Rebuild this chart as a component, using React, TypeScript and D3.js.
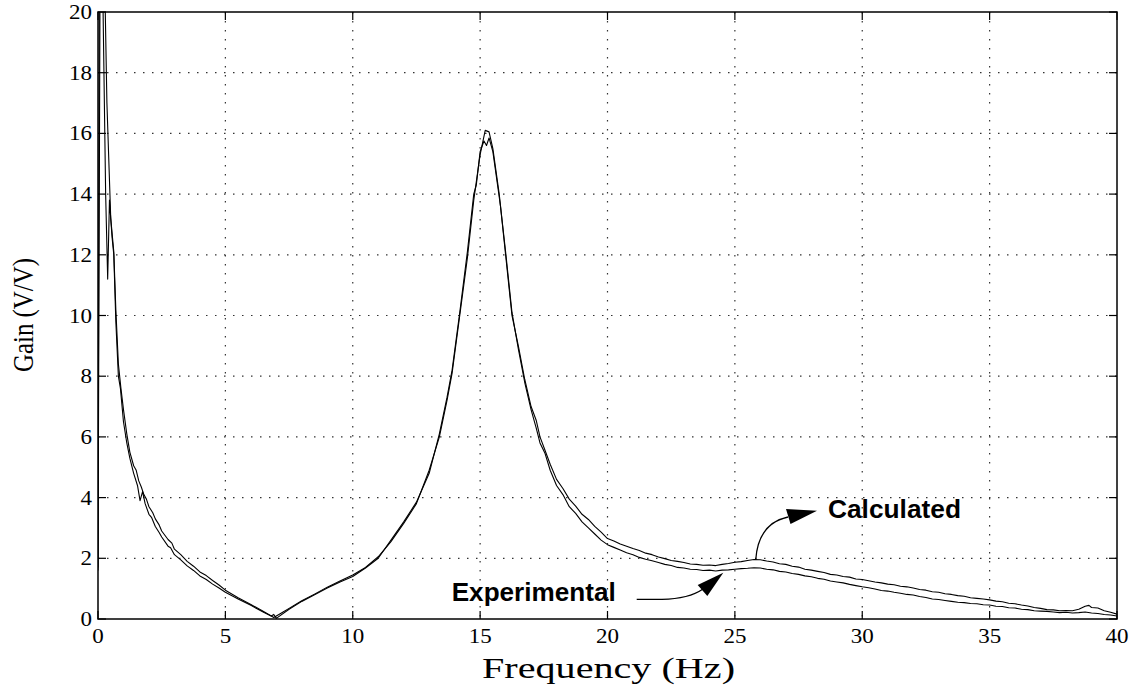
import * as d3 from 'd3'
import { useEffect, useRef } from 'react'

// Frequency (Hz) / gain (V/V) pairs
const calcFreq = [0, 0.08, 0.2, 0.35, 0.5, 0.62, 0.7, 0.8, 0.9, 1.0, 1.13, 1.25, 1.4, 1.5, 1.6, 1.7, 1.8, 1.9, 2.0, 2.15, 2.25, 2.4, 2.5, 2.75, 2.9, 3.0, 3.25, 3.5, 3.75, 4.0, 4.25, 4.5, 4.75, 5.0, 5.5, 6.0, 6.5, 6.9, 7.2, 7.5, 8.0, 8.5, 9.0, 9.5, 10.0, 10.5, 11.0, 11.5, 12.0, 12.5, 13.0, 13.4, 13.7, 13.9, 14.2, 14.5, 14.75, 15.0, 15.2, 15.35, 15.5, 15.75, 16.0, 16.25, 16.5, 16.75, 17.0, 17.2, 17.35, 17.55, 17.75, 18.0, 18.25, 18.5, 18.75, 19.0, 19.25, 19.5, 19.75,
  20.0, 20.25, 20.5, 20.75, 21.0, 21.25, 21.5, 21.75, 22.0, 22.25, 22.5, 22.75, 23.0, 23.25, 23.5, 23.75, 24.0, 24.25, 24.5, 24.75, 25.0, 25.25, 25.5, 25.75, 26.0, 26.25, 26.5, 26.75, 27.0, 27.25, 27.5, 27.75, 28.0, 28.25, 28.5, 28.75, 29.0, 29.25, 29.5, 29.75, 30.0, 30.25, 30.5, 30.75, 31.0, 31.25, 31.5, 31.75, 32.0, 32.25, 32.5, 32.75, 33.0, 33.25, 33.5, 33.75, 34.0, 34.25, 34.5, 34.75, 35.0, 35.25, 35.5, 35.75, 36.0, 36.25, 36.5, 36.75, 37.0, 37.25, 37.5, 37.75, 38.0, 38.25, 38.5, 38.75, 38.9, 39.0, 39.25, 39.5, 39.75, 40.0]
const calcGain = [1.7, 21, 24, 17, 13.2, 12.1, 10.2, 8.4, 7.6, 6.9, 6.1, 5.5, 5.05, 4.9, 4.55, 4.35, 4.1, 3.95, 3.7, 3.5, 3.3, 3.1, 2.9, 2.62, 2.5, 2.3, 2.12, 1.9, 1.74, 1.55, 1.43, 1.27, 1.12, 0.95, 0.7, 0.48, 0.25, 0.05, 0.2, 0.35, 0.6, 0.82, 1.05, 1.25, 1.45, 1.7, 2.05, 2.55, 3.15, 3.8, 4.9, 6.0, 7.2, 8.1, 10.0, 11.9, 13.8, 15.3, 16.1, 16.05, 15.5, 14.0, 12.0, 10.0, 9.0, 7.9, 7.0, 6.55, 6.0, 5.55, 5.1, 4.6, 4.3, 3.95, 3.72, 3.45, 3.28, 3.05, 2.86,
  2.65, 2.57, 2.47, 2.40, 2.32, 2.26, 2.17, 2.12, 2.04, 1.99, 1.93, 1.90, 1.86, 1.81, 1.80, 1.77, 1.78, 1.76, 1.80, 1.83, 1.87, 1.89, 1.93, 1.96, 1.95, 1.91, 1.88, 1.82, 1.80, 1.74, 1.71, 1.64, 1.61, 1.57, 1.53, 1.47, 1.45, 1.40, 1.38, 1.32, 1.30, 1.26, 1.22, 1.19, 1.15, 1.13, 1.08, 1.06, 1.02, 0.97, 0.95, 0.90, 0.88, 0.83, 0.81, 0.77, 0.75, 0.70, 0.68, 0.66, 0.63, 0.59, 0.57, 0.52, 0.50, 0.46, 0.43, 0.38, 0.35, 0.31, 0.30, 0.27, 0.28, 0.27, 0.32, 0.42, 0.45, 0.38, 0.36, 0.27, 0.22, 0.16]

const expFreq = [0, 0.05, 0.15, 0.3, 0.38, 0.45, 0.55, 0.62, 0.7, 0.8, 0.88, 1.0, 1.13, 1.25, 1.4, 1.55, 1.65, 1.75, 1.85, 2.0, 2.1, 2.25, 2.4, 2.5, 2.75, 2.85, 3.0, 3.25, 3.5, 3.75, 4.0, 4.25, 4.5, 4.75, 5.0, 5.5, 6.0, 6.5, 6.8, 6.9, 7.0, 7.5, 8.0, 8.5, 9.0, 9.5, 10.0, 10.5, 11.0, 11.5, 12.0, 12.5, 13.0, 13.4, 13.7, 13.9, 14.2, 14.5, 14.75, 14.85, 15.0, 15.15, 15.25, 15.35, 15.5, 15.7, 15.8, 16.0, 16.25, 16.5, 16.75, 17.0, 17.2, 17.35, 17.55, 17.75, 18.0, 18.25, 18.5, 18.75, 19.0, 19.25, 19.5, 19.75,
  20.0, 20.25, 20.5, 20.75, 21.0, 21.25, 21.5, 21.75, 22.0, 22.25, 22.5, 22.75, 23.0, 23.25, 23.5, 23.75, 24.0, 24.25, 24.5, 24.75, 25.0, 25.25, 25.5, 25.75, 26.0, 26.25, 26.5, 26.75, 27.0, 27.25, 27.5, 27.75, 28.0, 28.25, 28.5, 28.75, 29.0, 29.25, 29.5, 29.75, 30.0, 30.25, 30.5, 30.75, 31.0, 31.25, 31.5, 31.75, 32.0, 32.25, 32.5, 32.75, 33.0, 33.25, 33.5, 33.75, 34.0, 34.25, 34.5, 34.75, 35.0, 35.25, 35.5, 35.75, 36.0, 36.25, 36.5, 36.75, 37.0, 37.25, 37.5, 37.75, 38.0, 38.25, 38.5, 38.75, 39.0, 39.25, 39.5, 39.75, 40.0]
const expGain = [1.6, 20.5, 23, 14, 11.2, 13.8, 12.6, 12.0, 9.8, 8.0, 7.6, 6.5, 5.8, 5.3, 4.8, 4.4, 3.9, 4.2, 3.8, 3.45, 3.35, 3.05, 2.85, 2.7, 2.4, 2.35, 2.12, 1.95, 1.75, 1.6, 1.42, 1.3, 1.15, 1.02, 0.88, 0.66, 0.45, 0.22, 0.1, 0.15, 0.02, 0.32, 0.58, 0.8, 1.02, 1.22, 1.4, 1.68, 2.0, 2.6, 3.2, 3.85, 4.8, 6.1, 7.3, 8.2, 10.1, 12.1, 14.0, 14.3, 15.4, 15.75, 15.6, 15.85, 15.4, 14.2, 13.6, 12.1, 10.1, 8.9, 7.8, 6.9, 6.3, 5.8, 5.45, 4.9, 4.4, 4.1, 3.7, 3.48, 3.2, 3.0, 2.8, 2.6,
  2.45, 2.36, 2.27, 2.18, 2.12, 2.03, 1.97, 1.92, 1.86, 1.80, 1.76, 1.70, 1.68, 1.64, 1.63, 1.60, 1.61, 1.58, 1.61, 1.62, 1.64, 1.66, 1.67, 1.69, 1.68, 1.64, 1.62, 1.57, 1.55, 1.50, 1.47, 1.42, 1.39, 1.34, 1.31, 1.25, 1.22, 1.19, 1.14, 1.10, 1.06, 1.03, 0.99, 0.94, 0.92, 0.88, 0.85, 0.81, 0.79, 0.74, 0.71, 0.66, 0.64, 0.61, 0.58, 0.55, 0.54, 0.51, 0.50, 0.47, 0.46, 0.42, 0.41, 0.37, 0.36, 0.32, 0.31, 0.27, 0.26, 0.25, 0.23, 0.21, 0.22, 0.20, 0.21, 0.23, 0.20, 0.18, 0.15, 0.13, 0.10]

const xTicks = [0, 5, 10, 15, 20, 25, 30, 35, 40]
const yTicks = [0, 2, 4, 6, 8, 10, 12, 14, 16, 18, 20]

export default function App() {
  const ref = useRef<SVGSVGElement>(null)

  useEffect(() => {
    const svg = d3.select(ref.current)
    svg.selectAll('*').remove()

    const left = 98, right = 1117, top = 12, bottom = 619
    const x = d3.scaleLinear().domain([0, 40]).range([left, right])
    const y = d3.scaleLinear().domain([0, 20]).range([bottom, top])

    svg.append('rect').attr('width', 1142).attr('height', 691).attr('fill', '#fff')

    svg.append('defs').append('clipPath').attr('id', 'plot-clip')
      .append('rect')
      .attr('x', left).attr('y', top)
      .attr('width', right - left).attr('height', bottom - top)

    // dotted grid
    const grid = svg.append('g').attr('stroke', '#333').attr('stroke-width', 1.2)
      .attr('stroke-dasharray', '1.5 7.5')
    xTicks.slice(1, -1).forEach(t => {
      grid.append('line').attr('x1', x(t)).attr('x2', x(t)).attr('y1', top).attr('y2', bottom)
    })
    yTicks.slice(1, -1).forEach(t => {
      grid.append('line').attr('x1', left).attr('x2', right).attr('y1', y(t)).attr('y2', y(t))
    })

    // curves
    const line = d3.line<number>()
      .x(f => x(f))
    const plot = svg.append('g').attr('clip-path', 'url(#plot-clip)')
    const curves = [
      { freq: calcFreq, gain: calcGain },
      { freq: expFreq, gain: expGain },
    ]
    curves.forEach(c => {
      plot.append('path')
        .attr('d', line.y((_, i) => y(c.gain[i]))(c.freq))
        .attr('fill', 'none')
        .attr('stroke', '#000')
        .attr('stroke-width', 1.1)
        .attr('stroke-linejoin', 'round')
    })

    // frame and inward ticks
    svg.append('rect')
      .attr('x', left).attr('y', top)
      .attr('width', right - left).attr('height', bottom - top)
      .attr('fill', 'none').attr('stroke', '#000').attr('stroke-width', 1.5)

    const ticks = svg.append('g').attr('stroke', '#000').attr('stroke-width', 1.2)
    const tl = 8
    xTicks.forEach(t => {
      ticks.append('line').attr('x1', x(t)).attr('x2', x(t)).attr('y1', bottom).attr('y2', bottom - tl)
      ticks.append('line').attr('x1', x(t)).attr('x2', x(t)).attr('y1', top).attr('y2', top + tl)
    })
    yTicks.forEach(t => {
      ticks.append('line').attr('x1', left).attr('x2', left + tl).attr('y1', y(t)).attr('y2', y(t))
      ticks.append('line').attr('x1', right).attr('x2', right - tl).attr('y1', y(t)).attr('y2', y(t))
    })

    const serif = '"Liberation Serif", "Times New Roman", serif'
    const sans = '"Liberation Sans", Arial, sans-serif'

    // tick labels (slightly wide, like the original)
    svg.append('g').selectAll('text').data(xTicks).enter().append('text')
      .attr('x', d => x(d) - String(d).length * 11.5 / 2).attr('y', 643)
      .attr('font-family', serif).attr('font-size', 21.5)
      .attr('textLength', d => String(d).length * 11.5)
      .attr('lengthAdjust', 'spacingAndGlyphs')
      .text(d => d)

    svg.append('g').selectAll('text').data(yTicks).enter().append('text')
      .attr('x', d => 92 - String(d).length * 11.5).attr('y', d => y(d) + 7)
      .attr('font-family', serif).attr('font-size', 21.5)
      .attr('textLength', d => String(d).length * 11.5)
      .attr('lengthAdjust', 'spacingAndGlyphs')
      .text(d => d)

    // axis titles
    svg.append('text')
      .attr('x', 482).attr('y', 678)
      .attr('font-family', serif).attr('font-size', 29)
      .attr('textLength', 253).attr('lengthAdjust', 'spacingAndGlyphs')
      .text('Frequency (Hz)')

    svg.append('text')
      .attr('transform', 'translate(33,372) rotate(-90)')
      .attr('font-family', serif).attr('font-size', 29)
      .attr('textLength', 114).attr('lengthAdjust', 'spacingAndGlyphs')
      .text('Gain (V/V)')

    // annotations
    const ann = svg.append('g')
    ann.append('path')
      .attr('d', 'M755.7,560 C757,540 765,522 788,517')
      .attr('fill', 'none').attr('stroke', '#000').attr('stroke-width', 1.3)
    ann.append('path')
      .attr('d', 'M786,509 L790.5,524 L817,510.7 Z')
      .attr('fill', '#000')
    ann.append('text')
      .attr('x', 828).attr('y', 518)
      .attr('font-family', sans).attr('font-weight', 'bold').attr('font-size', 25)
      .attr('textLength', 133).attr('lengthAdjust', 'spacingAndGlyphs')
      .text('Calculated')

    ann.append('path')
      .attr('d', 'M636.7,599.3 L662,599.3 C680,599 693,596 703,589')
      .attr('fill', 'none').attr('stroke', '#000').attr('stroke-width', 1.3)
    ann.append('path')
      .attr('d', 'M697.7,585 L707.3,596 L723.3,572.7 Z')
      .attr('fill', '#000')
    ann.append('text')
      .attr('x', 451.7).attr('y', 600.7)
      .attr('font-family', sans).attr('font-weight', 'bold').attr('font-size', 25)
      .attr('textLength', 164).attr('lengthAdjust', 'spacingAndGlyphs')
      .text('Experimental')
  }, [])

  return (
    <svg
      ref={ref}
      width={1142}
      height={691}
      style={{ position: 'absolute', left: 0, top: 0, display: 'block' }}
    />
  )
}
